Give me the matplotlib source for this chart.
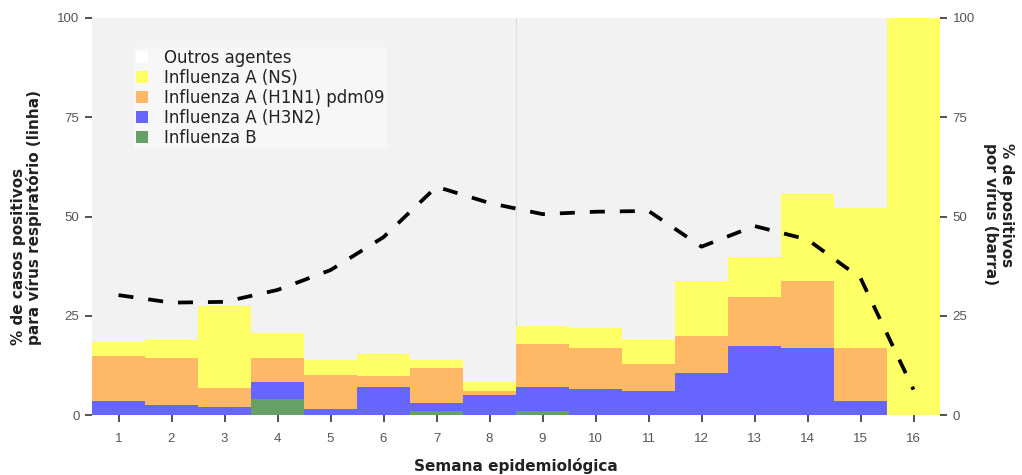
import matplotlib
matplotlib.use("Agg")
import matplotlib.pyplot as plt
from matplotlib.patches import Patch
import numpy as np

# semanas epidemiologicas
semanas = np.arange(1, 17)

# % por virus (barras empilhadas)
flu_b = [0, 0, 0, 4.1, 0, 0, 1.0, 0, 1.0, 0, 0, 0, 0, 0, 0, 0]
h3n2 = [3.6, 2.5, 2.1, 4.1, 1.6, 7.1, 2.1, 5.0, 6.1, 6.5, 6.1, 10.7, 17.5, 16.8, 3.6, 0]
h1n1 = [11.3, 11.8, 4.6, 6.1, 8.6, 2.6, 8.7, 1.0, 10.8, 10.3, 6.7, 9.3, 12.1, 17.0, 13.2, 0]
flu_ns = [3.6, 4.6, 20.8, 6.3, 3.7, 5.7, 2.1, 2.2, 4.6, 5.2, 6.1, 13.8, 10.2, 21.8, 35.3, 100]

# % de casos positivos para virus respiratorio (linha)
positivos = [30.2, 28.3, 28.5, 31.5, 36.5, 44.8, 57.5, 53.4, 50.6, 51.2, 51.4, 42.4, 47.6, 44.2, 34.5, 6.4]

cores = {
    "outros": "#FFFFFF",
    "ns": "#FFFF66",
    "h1n1": "#FFB866",
    "h3n2": "#6666FF",
    "b": "#66A066",
}

fig = plt.figure(figsize=(10.22, 4.75), dpi=100)
ax = fig.add_axes([92 / 1022, 1 - 415 / 475, 848 / 1022, 397 / 475])
ax.set_facecolor("#F2F2F2")

base = np.zeros(len(semanas))
for vals, key in [(flu_b, "b"), (h3n2, "h3n2"), (h1n1, "h1n1"), (flu_ns, "ns")]:
    ax.bar(semanas, vals, width=1.0, bottom=base, color=cores[key], linewidth=0, zorder=2)
    base = base + np.array(vals)

ax.axvline(8.5, color="#DEDEDE", lw=0.8, zorder=1)

ax.plot(semanas, positivos, color="black", lw=2.7, dashes=(4, 4), zorder=3)

ax.set_xlim(0.5, 16.5)
ax.set_ylim(0, 100)
ax.set_xticks(semanas)
ax.set_yticks([0, 25, 50, 75, 100])
for s in ax.spines.values():
    s.set_visible(False)
ax.tick_params(axis="both", length=5, width=1.2, color="#333333",
               labelcolor="#555555", labelsize=9.5)
ax.tick_params(axis="x", pad=8)
ax.tick_params(axis="y", pad=4)

ax2 = ax.twinx()
ax2.set_ylim(0, 100)
ax2.set_yticks([0, 25, 50, 75, 100])
for s in ax2.spines.values():
    s.set_visible(False)
ax2.tick_params(axis="y", length=5, width=1.2, color="#333333",
                labelcolor="#555555", labelsize=9.5, pad=4)

for t in ax.get_xticklabels() + ax.get_yticklabels() + ax2.get_yticklabels():
    t.set_family("Liberation Sans")

handles = [
    Patch(facecolor=cores["outros"], label="Outros agentes"),
    Patch(facecolor=cores["ns"], label="Influenza A (NS)"),
    Patch(facecolor=cores["h1n1"], label="Influenza A (H1N1) pdm09"),
    Patch(facecolor=cores["h3n2"], label="Influenza A (H3N2)"),
    Patch(facecolor=cores["b"], label="Influenza B"),
]
leg = ax.legend(handles=handles, loc="upper left", bbox_to_anchor=(0.050, 0.928),
                frameon=True, fancybox=False, facecolor="#F7F7F7", edgecolor="none",
                framealpha=1, prop={"family": "DejaVu Sans", "size": 12},
                handlelength=0.72, handleheight=0.72, handletextpad=0.95,
                labelspacing=0.12, borderpad=0.12, borderaxespad=0)
leg.set_zorder(5)
for t in leg.get_texts():
    t.set_color("#222222")

fig.text(27 / 1022, 1 - 345 / 475, "% de casos positivos\npara vírus respiratório (linha)",
         rotation=90, ha="center", va="bottom", multialignment="left",
         fontsize=11, fontweight="bold", color="#222222", linespacing=1.0)
fig.text(998 / 1022, 1 - 143 / 475, "% de positivos\npor vírus (barra)",
         rotation=270, ha="center", va="top", multialignment="left",
         fontsize=11, fontweight="bold", color="#222222", linespacing=1.0)
fig.text(516 / 1022, 1 - 466 / 475, "Semana epidemiológica", ha="center", va="center",
         fontsize=11, fontweight="bold", color="#222222")

fig.savefig("out.png", dpi=100)
